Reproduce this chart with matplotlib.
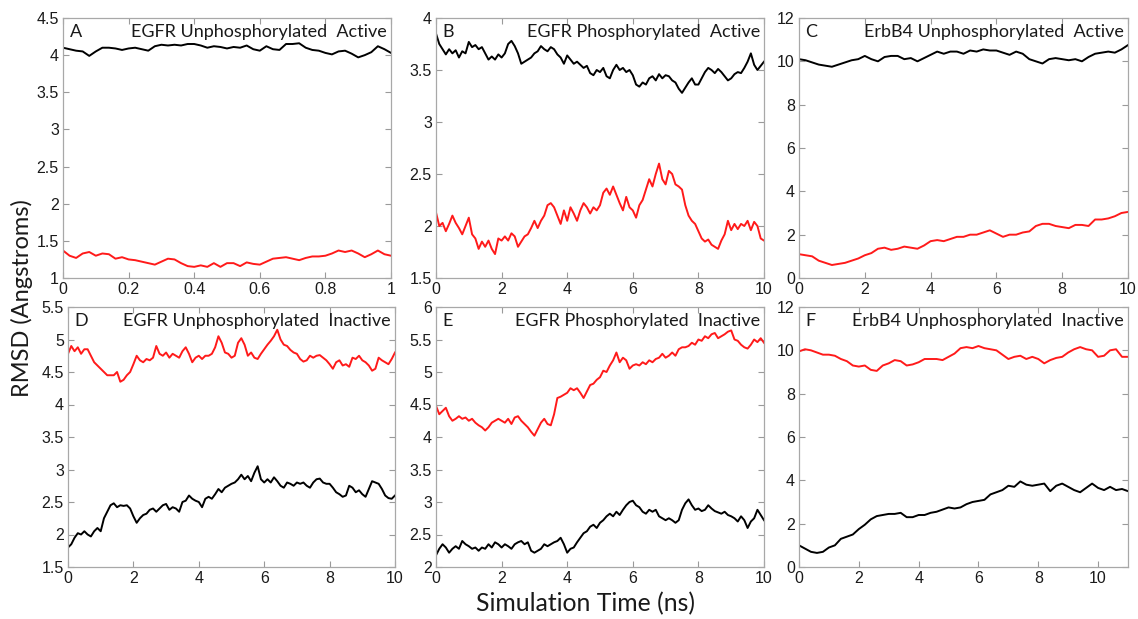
import numpy as np
import matplotlib
matplotlib.use("Agg")
import matplotlib.pyplot as plt
from matplotlib.ticker import FormatStrFormatter, MultipleLocator

# ---- data (RMSD in Angstroms) ----
# A: EGFR unphosphorylated active, 0-1 ns, step 0.02
a_black = [4.10, 4.08, 4.06, 4.05, 3.99, 4.05, 4.10, 4.10, 4.09, 4.07,
           4.09, 4.10, 4.08, 4.06, 4.12, 4.14, 4.13, 4.14, 4.13, 4.15,
           4.15, 4.13, 4.10, 4.12, 4.11, 4.09, 4.11, 4.10, 4.13, 4.08,
           4.06, 4.12, 4.08, 4.07, 4.15, 4.15, 4.16, 4.10, 4.07, 4.06,
           4.03, 4.01, 4.05, 4.06, 4.02, 3.97, 4.00, 4.04, 4.12, 4.08,
           4.03]
a_red = [1.37, 1.30, 1.27, 1.33, 1.35, 1.30, 1.33, 1.32, 1.26, 1.28,
         1.25, 1.24, 1.22, 1.20, 1.18, 1.22, 1.26, 1.25, 1.20, 1.16,
         1.15, 1.17, 1.15, 1.20, 1.15, 1.20, 1.20, 1.16, 1.21, 1.19,
         1.18, 1.22, 1.26, 1.27, 1.28, 1.26, 1.24, 1.27, 1.29, 1.29,
         1.30, 1.33, 1.37, 1.35, 1.37, 1.33, 1.28, 1.32, 1.37, 1.32,
         1.30]

# B: EGFR phosphorylated active, 0-10 ns, step 0.1
b_black = [3.85, 3.75, 3.70, 3.65, 3.70, 3.66, 3.69, 3.62, 3.68, 3.66,
           3.77, 3.72, 3.74, 3.70, 3.72, 3.66, 3.60, 3.63, 3.60, 3.65,
           3.62, 3.66, 3.75, 3.78, 3.73, 3.66, 3.56, 3.58, 3.60, 3.62,
           3.66, 3.68, 3.73, 3.70, 3.68, 3.72, 3.70, 3.65, 3.62, 3.56,
           3.64, 3.60, 3.56, 3.58, 3.55, 3.52, 3.54, 3.47, 3.45, 3.50,
           3.48, 3.52, 3.44, 3.42, 3.50, 3.55, 3.50, 3.52, 3.48, 3.50,
           3.45, 3.36, 3.34, 3.38, 3.36, 3.42, 3.44, 3.40, 3.46, 3.42,
           3.45, 3.44, 3.40, 3.38, 3.32, 3.28, 3.33, 3.38, 3.42, 3.36,
           3.36, 3.42, 3.48, 3.52, 3.50, 3.47, 3.51, 3.48, 3.44, 3.40,
           3.42, 3.46, 3.48, 3.47, 3.52, 3.58, 3.66, 3.55, 3.50, 3.54,
           3.58]
b_red = [2.13, 2.00, 2.03, 1.95, 2.02, 2.10, 2.03, 1.98, 1.92, 2.00,
         2.08, 1.92, 1.88, 1.78, 1.85, 1.80, 1.86, 1.78, 1.73, 1.88,
         1.86, 1.90, 1.86, 1.93, 1.90, 1.80, 1.85, 1.90, 1.92, 1.98,
         2.05, 1.98, 2.05, 2.10, 2.20, 2.22, 2.18, 2.10, 2.02, 2.15,
         2.05, 2.18, 2.12, 2.05, 2.15, 2.22, 2.18, 2.12, 2.18, 2.15,
         2.20, 2.32, 2.36, 2.30, 2.38, 2.30, 2.22, 2.15, 2.28, 2.18,
         2.15, 2.08, 2.20, 2.25, 2.35, 2.45, 2.38, 2.50, 2.60, 2.45,
         2.40, 2.53, 2.50, 2.40, 2.38, 2.35, 2.20, 2.10, 2.05, 2.02,
         1.95, 1.88, 1.85, 1.87, 1.82, 1.80, 1.78, 1.86, 1.92, 2.05,
         1.96, 2.02, 1.97, 2.02, 2.00, 2.05, 1.96, 2.04, 2.00, 1.88,
         1.86]

# C: ErbB4 unphosphorylated active, 0-10 ns, step 0.2
c_black = [10.10, 10.05, 9.95, 9.85, 9.80, 9.75, 9.85, 9.95, 10.05, 10.10,
           10.25, 10.10, 10.00, 10.20, 10.25, 10.25, 10.10, 10.15, 10.00, 10.15,
           10.30, 10.45, 10.35, 10.45, 10.45, 10.35, 10.50, 10.45, 10.55, 10.50,
           10.50, 10.40, 10.30, 10.45, 10.35, 10.10, 10.00, 9.90, 10.10, 10.15,
           10.10, 10.05, 10.10, 10.00, 10.20, 10.35, 10.40, 10.45, 10.40, 10.55,
           10.75]
c_red = [1.10, 1.05, 1.00, 0.80, 0.70, 0.60, 0.65, 0.70, 0.80, 0.90,
         1.05, 1.15, 1.35, 1.40, 1.30, 1.35, 1.45, 1.40, 1.35, 1.50,
         1.70, 1.75, 1.70, 1.80, 1.90, 1.90, 2.00, 2.00, 2.10, 2.20,
         2.05, 1.90, 2.00, 2.00, 2.10, 2.15, 2.40, 2.50, 2.50, 2.40,
         2.35, 2.30, 2.45, 2.45, 2.40, 2.70, 2.70, 2.75, 2.85, 3.00,
         3.05]

# D: EGFR unphosphorylated inactive, 0-10 ns, step 0.1
d_red = [4.78, 4.90, 4.82, 4.88, 4.78, 4.85, 4.85, 4.75, 4.65, 4.60,
         4.55, 4.50, 4.45, 4.45, 4.45, 4.50, 4.35, 4.38, 4.45, 4.50,
         4.62, 4.75, 4.68, 4.65, 4.70, 4.68, 4.72, 4.90, 4.78, 4.75,
         4.80, 4.72, 4.78, 4.75, 4.72, 4.82, 4.88, 4.78, 4.65, 4.72,
         4.75, 4.70, 4.75, 4.75, 4.78, 4.88, 5.05, 4.95, 4.80, 4.78,
         4.72, 4.75, 4.95, 5.02, 4.92, 4.75, 4.80, 4.72, 4.70, 4.78,
         4.85, 4.92, 4.98, 5.05, 5.15, 5.00, 4.92, 4.90, 4.84, 4.80,
         4.78, 4.70, 4.66, 4.68, 4.75, 4.72, 4.75, 4.76, 4.72, 4.68,
         4.62, 4.55, 4.65, 4.68, 4.60, 4.62, 4.58, 4.72, 4.70, 4.75,
         4.68, 4.65, 4.60, 4.52, 4.55, 4.72, 4.68, 4.65, 4.62, 4.70,
         4.80]
d_black = [1.80, 1.85, 1.95, 2.02, 2.00, 2.05, 2.00, 1.97, 2.05, 2.10,
           2.05, 2.25, 2.35, 2.45, 2.48, 2.42, 2.45, 2.44, 2.45, 2.40,
           2.28, 2.18, 2.25, 2.30, 2.32, 2.38, 2.40, 2.35, 2.40, 2.45,
           2.47, 2.38, 2.42, 2.40, 2.35, 2.50, 2.52, 2.60, 2.55, 2.52,
           2.50, 2.42, 2.55, 2.58, 2.55, 2.62, 2.70, 2.65, 2.72, 2.75,
           2.78, 2.80, 2.85, 2.92, 2.85, 2.90, 2.82, 2.95, 3.05, 2.85,
           2.80, 2.85, 2.80, 2.88, 2.82, 2.75, 2.72, 2.80, 2.78, 2.75,
           2.80, 2.78, 2.80, 2.75, 2.72, 2.80, 2.85, 2.86, 2.80, 2.78,
           2.78, 2.72, 2.65, 2.62, 2.58, 2.60, 2.75, 2.72, 2.65, 2.68,
           2.62, 2.58, 2.70, 2.82, 2.80, 2.78, 2.70, 2.60, 2.56, 2.55,
           2.60]

# E: EGFR phosphorylated inactive, 0-10 ns, step 0.1
e_red = [4.48, 4.35, 4.40, 4.45, 4.32, 4.25, 4.28, 4.32, 4.28, 4.30,
         4.25, 4.28, 4.22, 4.18, 4.15, 4.10, 4.15, 4.22, 4.25, 4.28,
         4.25, 4.22, 4.28, 4.20, 4.30, 4.32, 4.25, 4.20, 4.15, 4.08,
         4.02, 4.12, 4.22, 4.28, 4.20, 4.18, 4.35, 4.60, 4.62, 4.65,
         4.68, 4.75, 4.72, 4.75, 4.68, 4.60, 4.70, 4.80, 4.82, 4.88,
         4.92, 5.02, 5.00, 5.10, 5.18, 5.30, 5.15, 5.22, 5.18, 5.05,
         5.10, 5.12, 5.10, 5.15, 5.12, 5.18, 5.15, 5.20, 5.22, 5.28,
         5.22, 5.25, 5.30, 5.25, 5.35, 5.38, 5.38, 5.40, 5.45, 5.42,
         5.50, 5.48, 5.55, 5.52, 5.58, 5.60, 5.52, 5.55, 5.58, 5.62,
         5.64, 5.50, 5.48, 5.42, 5.38, 5.36, 5.42, 5.50, 5.46, 5.52,
         5.45]
e_black = [2.18, 2.28, 2.35, 2.30, 2.22, 2.28, 2.32, 2.28, 2.40, 2.35,
           2.32, 2.28, 2.30, 2.25, 2.30, 2.28, 2.35, 2.30, 2.38, 2.35,
           2.30, 2.35, 2.32, 2.28, 2.35, 2.38, 2.40, 2.35, 2.38, 2.25,
           2.22, 2.25, 2.28, 2.35, 2.32, 2.35, 2.38, 2.40, 2.45, 2.35,
           2.22, 2.28, 2.30, 2.38, 2.45, 2.52, 2.55, 2.62, 2.65, 2.60,
           2.68, 2.72, 2.78, 2.82, 2.78, 2.85, 2.80, 2.88, 2.95, 3.00,
           3.02, 2.95, 2.92, 2.85, 2.82, 2.88, 2.85, 2.88, 2.78, 2.75,
           2.72, 2.75, 2.72, 2.68, 2.72, 2.88, 2.98, 3.04, 2.95, 2.88,
           2.90, 2.86, 2.88, 2.95, 2.90, 2.86, 2.84, 2.82, 2.85, 2.80,
           2.78, 2.75, 2.70, 2.78, 2.72, 2.60, 2.70, 2.75, 2.88, 2.80,
           2.72]

# F: ErbB4 unphosphorylated inactive, 0-11 ns, step 0.2
f_red = [9.95, 10.05, 10.00, 9.90, 9.80, 9.80, 9.75, 9.60, 9.50, 9.30,
         9.25, 9.30, 9.10, 9.05, 9.30, 9.40, 9.55, 9.50, 9.30, 9.35,
         9.45, 9.60, 9.60, 9.60, 9.55, 9.70, 9.85, 10.10, 10.15, 10.10,
         10.20, 10.10, 10.05, 10.00, 9.80, 9.60, 9.70, 9.75, 9.60, 9.70,
         9.60, 9.40, 9.55, 9.65, 9.70, 9.90, 10.05, 10.15, 10.05, 10.00,
         9.70, 9.75, 10.00, 10.05, 9.70, 9.70]
f_black = [1.00, 0.85, 0.70, 0.65, 0.70, 0.90, 1.00, 1.30, 1.40, 1.50,
           1.75, 1.95, 2.20, 2.35, 2.40, 2.45, 2.45, 2.50, 2.30, 2.30,
           2.40, 2.40, 2.50, 2.55, 2.65, 2.75, 2.70, 2.75, 2.90, 3.00,
           3.05, 3.10, 3.35, 3.45, 3.55, 3.75, 3.70, 3.95, 3.80, 3.75,
           3.80, 3.85, 3.50, 3.75, 3.85, 3.70, 3.55, 3.45, 3.65, 3.85,
           3.65, 3.55, 3.70, 3.55, 3.60, 3.50]

panel_letters = ["A", "B", "C", "D", "E", "F"]
panel_titles = ["EGFR Unphosphorylated  Active", "EGFR Phosphorylated  Active",
                "ErbB4 Unphosphorylated  Active", "EGFR Unphosphorylated  Inactive",
                "EGFR Phosphorylated  Inactive", "ErbB4 Unphosphorylated  Inactive"]
t_end = [1, 10, 10, 10, 10, 11]
black_series = [a_black, b_black, c_black, d_black, e_black, f_black]
red_series = [a_red, b_red, c_red, d_red, e_red, f_red]
y_limits = [(1, 4.5), (1.5, 4), (0, 12), (1.5, 5.5), (2, 6), (0, 12)]
y_steps = [0.5, 0.5, 2, 0.5, 0.5, 2]
x_steps = [0.2, 2, 2, 2, 2, 2]

# axes boxes in pixels (left, top, right, bottom) of a 1138x619 figure
W, H = 1138, 619
boxes = [(63, 18, 391, 278), (436, 18, 764, 278), (799, 18, 1128, 278),
         (68, 307, 395, 567), (436, 307, 764, 567), (799, 307, 1128, 567)]

fig = plt.figure(figsize=(W / 100, H / 100), dpi=100)
title_font = ["Lato", "DejaVu Sans"]
tick_font = "Liberation Sans"

for i in range(6):
    l, t, r, b = boxes[i]
    ax = fig.add_axes([l / W, 1 - b / H, (r - l) / W, (b - t) / H])
    tb = np.linspace(0, t_end[i], len(black_series[i]))
    tr = np.linspace(0, t_end[i], len(red_series[i]))
    ax.plot(tb, black_series[i], color="black", linewidth=1.4)
    ax.plot(tr, red_series[i], color="#ff1a1a", linewidth=1.4)

    ax.set_xlim(0, t_end[i])
    ax.set_ylim(*y_limits[i])
    ax.xaxis.set_major_locator(MultipleLocator(x_steps[i]))
    ax.yaxis.set_major_locator(MultipleLocator(y_steps[i]))
    ax.xaxis.set_major_formatter(FormatStrFormatter("%g"))
    ax.yaxis.set_major_formatter(FormatStrFormatter("%g"))
    ax.tick_params(direction="in", top=True, right=True, length=4,
                   width=0.8, color="#9a9a9a", labelsize=11.5, pad=3,
                   labelcolor="#1a1a1a")
    for lab in ax.get_xticklabels() + ax.get_yticklabels():
        lab.set_fontfamily(tick_font)
    for sp in ax.spines.values():
        sp.set_color("#a8a8a8")
        sp.set_linewidth(0.9)

    ax.text(0.02, 0.945, panel_letters[i], transform=ax.transAxes,
            ha="left", va="center", fontsize=13, family=title_font,
            color="#1a1a1a")
    ax.text(0.988, 0.945, panel_titles[i], transform=ax.transAxes,
            ha="right", va="center", fontsize=13, family=title_font,
            color="#1a1a1a")

fig.text(22 / W, 1 - 298 / H, "RMSD (Angstroms)", rotation=90,
         ha="center", va="center", fontsize=17, family=title_font,
         color="#1a1a1a")
fig.text(586 / W, 1 - 604 / H, "Simulation Time (ns)", ha="center",
         va="center", fontsize=17.8, family=title_font, color="#1a1a1a")

fig.savefig("out.png", dpi=100)
